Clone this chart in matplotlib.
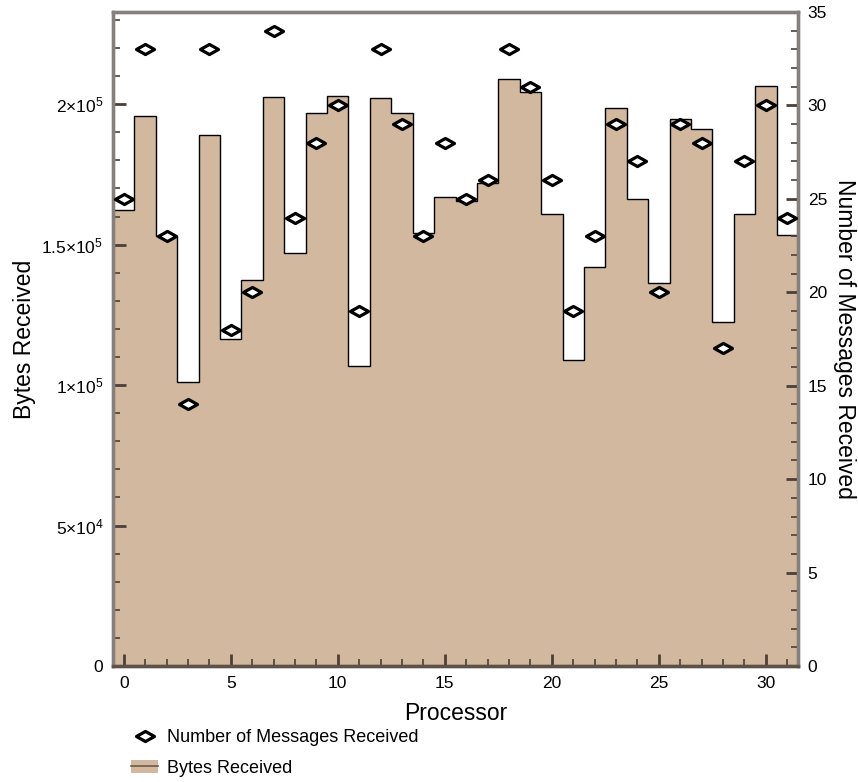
import matplotlib
matplotlib.use("Agg")
import matplotlib.pyplot as plt
import numpy as np
from matplotlib.path import Path
from matplotlib.patches import Patch
from matplotlib.lines import Line2D
from matplotlib.ticker import MultipleLocator

plt.rcParams['font.family'] = ['Liberation Sans', 'DejaVu Sans']
plt.rcParams['mathtext.fontset'] = 'custom'
plt.rcParams['mathtext.rm'] = 'Liberation Sans'
plt.rcParams['mathtext.it'] = 'Liberation Sans:italic'

processors = np.arange(32)
bytes_received = [
    162300, 195700, 153000, 101200, 189100, 116400, 137400, 202600,
    147100, 196900, 203000, 106900, 202200, 197000, 154100, 167000,
    165400, 171800, 208800, 204400, 161000, 109100, 141900, 198700,
    166200, 136400, 194800, 191000, 122500, 161000, 206400, 153300,
]
messages_received = [
    25, 33, 23, 14, 33, 18, 20, 34, 24, 28, 30, 19, 33, 29, 23, 28,
    25, 26, 33, 31, 26, 19, 23, 29, 27, 20, 29, 28, 17, 27, 30, 24,
]
byte_ticks = [0, 5e4, 1e5, 1.5e5, 2e5]
byte_tick_labels = ['0', r'$5{\times}10^{4}$', r'$1{\times}10^{5}$',
                    r'$1.5{\times}10^{5}$', r'$2{\times}10^{5}$']

tan = '#d2b89e'
frame = '#85807b'
tick_col = '#4a4038'

# flattened diamond for the message counts
diamond = Path([(-1, 0), (0, 0.56), (1, 0), (0, -0.56), (-1, 0)],
               [Path.MOVETO, Path.LINETO, Path.LINETO, Path.LINETO, Path.CLOSEPOLY])
mk = dict(marker=diamond, markersize=13, markerfacecolor='white',
          markeredgecolor='black', markeredgewidth=2.3)

fig = plt.figure(figsize=(8.58, 7.82), dpi=100)
ax = fig.add_axes([113/858, 1 - 666/782, (798 - 113)/858, (666 - 12)/782])

edges = np.append(processors - 0.5, processors[-1] + 0.5)
ax.stairs(bytes_received, edges, fill=True, color=tan, zorder=1)
ax.stairs(bytes_received, edges, baseline=None, color='black', lw=1.0, zorder=2)

ax.set_xlim(-0.5, 31.5)
ax.set_ylim(0, 2.328e5)
ax.set_yticks(byte_ticks)
ax.set_yticklabels(byte_tick_labels)
ax.yaxis.set_minor_locator(MultipleLocator(1e4))
ax.xaxis.set_major_locator(MultipleLocator(5))
ax.xaxis.set_minor_locator(MultipleLocator(1))
ax.tick_params(which='both', direction='in', top=False, right=False,
               color=tick_col, labelsize=12.5, pad=7)
ax.tick_params(which='major', length=9, width=2)
ax.tick_params(which='minor', length=5, width=1.2)
ax.set_xlabel('Processor', fontsize=16.5, labelpad=8)
ax.set_ylabel('Bytes Received', fontsize=16.5, labelpad=4)

ax2 = ax.twinx()
ax2.plot(processors, messages_received, linestyle='none', zorder=3,
         clip_on=False, **mk)
ax2.set_ylim(0, 35)
ax2.yaxis.set_major_locator(MultipleLocator(5))
ax2.yaxis.set_minor_locator(MultipleLocator(1))
ax2.tick_params(which='both', direction='in', color=tick_col, labelsize=12.5, pad=7)
ax2.tick_params(which='major', length=9, width=2)
ax2.tick_params(which='minor', length=5, width=1.2)
ax2.set_ylabel('Number of Messages Received', fontsize=16.5, rotation=-90, labelpad=21)

for a in (ax, ax2):
    for side in ('left', 'top', 'right'):
        a.spines[side].set_color(frame)
    a.spines['bottom'].set_color('#5e5248')
    for s in a.spines.values():
        s.set_linewidth(2.4)

handles = [
    Line2D([], [], linestyle='none', **mk),
    (Patch(facecolor=tan, edgecolor='none'), Line2D([], [], color='#6b5a4a', lw=1.2)),
]
fig.legend(handles, ['Number of Messages Received', 'Bytes Received'],
           loc='upper left', bbox_to_anchor=(124/858, 1 - 722/782),
           frameon=False, fontsize=13, handlelength=1.5, handletextpad=0.5,
           labelspacing=0.75, borderaxespad=0)

fig.savefig('out.png', dpi=100)
